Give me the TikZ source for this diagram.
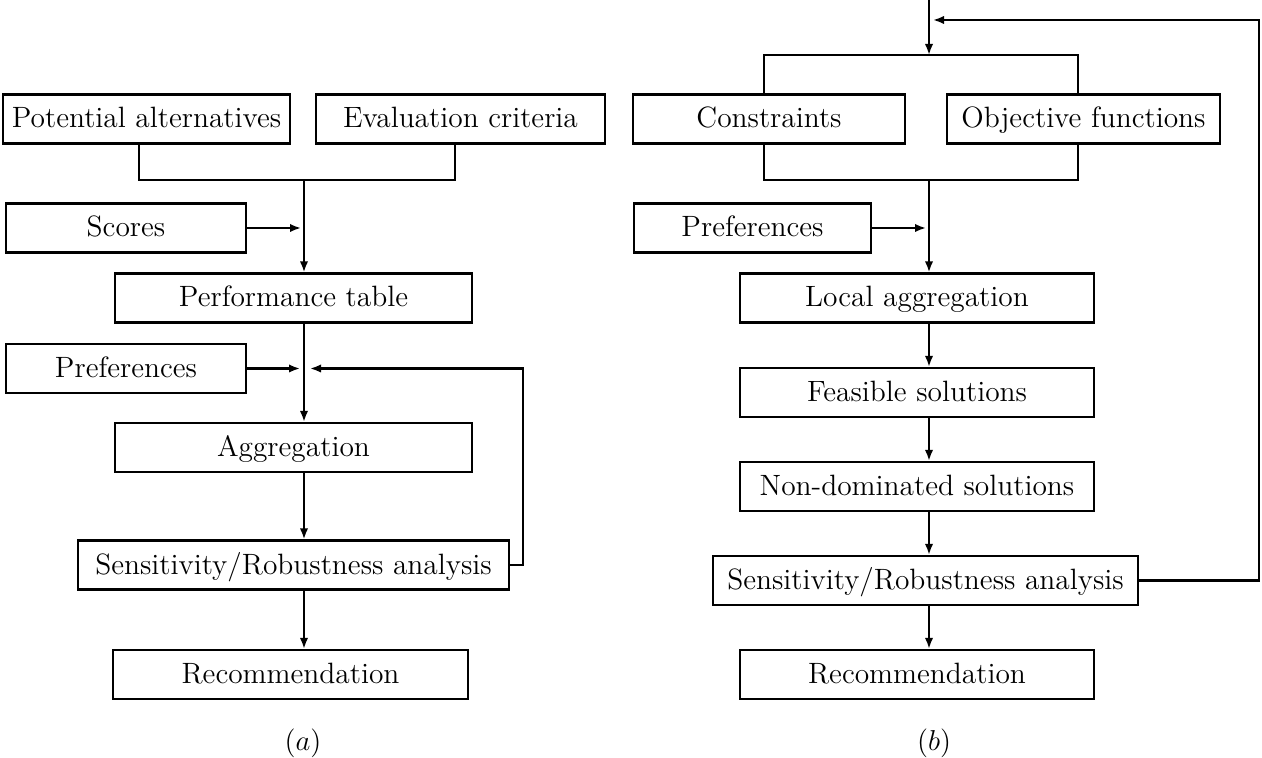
\documentclass[tikz,border=0pt]{standalone}
\usetikzlibrary{arrows.meta,calc}
\begin{document}
\begin{tikzpicture}[x=0.5pt,y=-0.5pt,
  box/.style={draw,line width=1.1pt,inner sep=0pt,minimum height=24.5pt,
    text height=10.5pt,text depth=1.5pt,
    font=\fontsize{14.7}{17}\selectfont},
  conn/.style={line width=1.05pt},
  arr/.style={conn,-{Latex[length=5.5pt,width=4.2pt]}},
  lbl/.style={font=\fontsize{14.7}{17}\selectfont}]
\useasboundingbox (0,0) rectangle (1262,758);
% ---------- (a) ----------
\node[box,minimum width=143.5pt] (pa) at (146.5,119) {Potential alternatives};
\node[box,minimum width=144.5pt] (ec) at (460.5,119) {Evaluation criteria};
\node[box,minimum width=120pt] (scores) at (126,228) {Scores};
\node[box,minimum width=178.5pt] (perf) at (293.5,298) {Performance table};
\node[box,minimum width=120pt] (prefa) at (126,368.5) {Preferences};
\node[box,minimum width=178.5pt] (agg) at (293.5,447.5) {Aggregation};
\node[box,minimum width=215.5pt] (sensa) at (293.5,565) {Sensitivity/Robustness analysis};
\node[box,minimum width=177.5pt] (reca) at (290.5,674.5) {Recommendation};
\node[lbl] (la) at (303,743) {$(a)$};
\coordinate (ja1) at (139,180);
\coordinate (ja2) at (455,180);
\coordinate (ma) at (304,180);
\coordinate (sa) at (301,0);
\coordinate (pl) at (300,0);
\coordinate (pr) at (310,0);
\coordinate (fa) at (523,0);
\draw[conn] (ja1 |- pa.south) -- (ja1) -- (ja2) -- (ja2 |- ec.south);
\draw[arr] (ma) -- (ma |- perf.north);
\draw[arr] (scores.east) -- (scores.east -| sa);
\draw[arr] (perf.south -| ma) -- (agg.north -| ma);
\draw[arr] (prefa.east) -- (prefa.east -| pl);
\draw[arr] (sensa.east) -- (sensa.east -| fa) -- (fa |- prefa.east) -- (prefa.east -| pr);
\draw[arr] (agg.south -| ma) -- (sensa.north -| ma);
\draw[arr] (sensa.south -| ma) -- (reca.north -| ma);
% ---------- (b) ----------
\node[box,minimum width=136pt] (cons) at (769,119) {Constraints};
\node[box,minimum width=136.5pt] (obj) at (1083.5,119) {Objective functions};
\node[box,minimum width=118.5pt] (prefb) at (752.5,228) {Preferences};
\node[box,minimum width=177pt] (loc) at (917,298) {Local aggregation};
\node[box,minimum width=177pt] (feas) at (917,392.5) {Feasible solutions};
\node[box,minimum width=177pt] (nond) at (917,486.5) {Non-dominated solutions};
\node[box,minimum width=212.5pt] (sensb) at (925.5,580.5) {Sensitivity/Robustness analysis};
\node[box,minimum width=177pt] (recb) at (917,674.5) {Recommendation};
\node[lbl] (lb) at (934,743) {$(b)$};
\coordinate (tb) at (929,0);
\coordinate (bl) at (764,55);
\coordinate (br) at (1078,55);
\coordinate (bl2) at (764,180);
\coordinate (br2) at (1078,180);
\coordinate (mb) at (929,180);
\coordinate (pb) at (926,0);
\coordinate (fb) at (1259,20);
\coordinate (fbe) at (933,20);
\draw[arr] (tb) -- (tb |- bl);
\draw[conn] (bl |- cons.north) -- (bl) -- (br) -- (br |- obj.north);
\draw[conn] (bl2 |- cons.south) -- (bl2) -- (br2) -- (br2 |- obj.south);
\draw[arr] (mb) -- (loc.north -| mb);
\draw[arr] (prefb.east) -- (prefb.east -| pb);
\draw[arr] (loc.south -| mb) -- (feas.north -| mb);
\draw[arr] (feas.south -| mb) -- (nond.north -| mb);
\draw[arr] (nond.south -| mb) -- (sensb.north -| mb);
\draw[arr] (sensb.south -| mb) -- (recb.north -| mb);
\draw[arr] (sensb.east) -- (sensb.east -| fb) -- (fb) -- (fbe);
\end{tikzpicture}
\end{document}
